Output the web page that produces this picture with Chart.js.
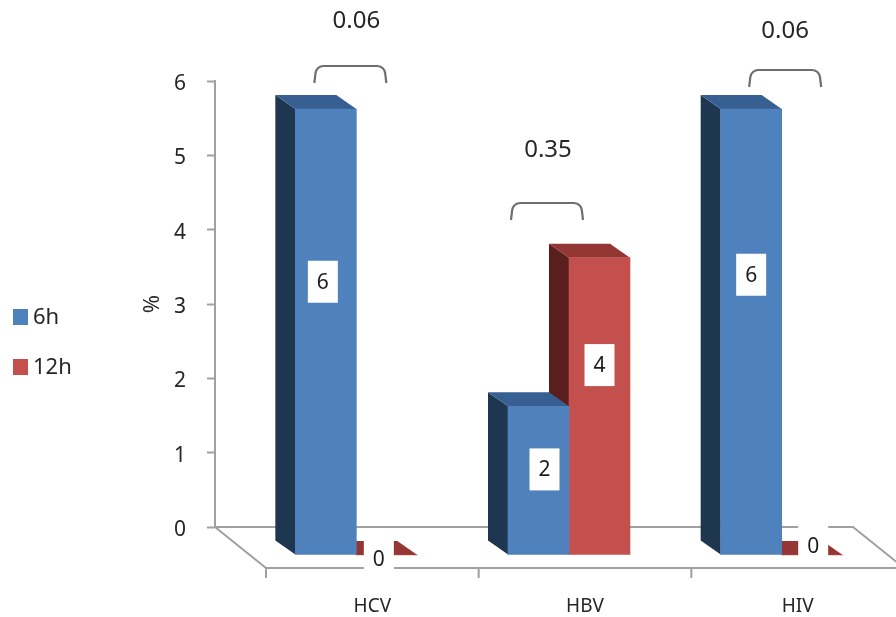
<!DOCTYPE html>
<html>
<head>
<meta charset="utf-8">
<title>6h vs 12h</title>
<script src="https://cdn.jsdelivr.net/npm/chart.js@4/dist/chart.umd.min.js"></script>
<style>
  html, body { margin: 0; padding: 0; background: #fff; }
  canvas { display: block; }
</style>
</head>
<body>
<canvas id="chart" width="896" height="617"></canvas>
<script>
const categories = ["HCV", "HBV", "HIV"];
const hours6 = [6, 2, 6];
const hours12 = [0, 4, 0];
const pValues = ["0.06", "0.35", "0.06"];
const yTicks = [0, 1, 2, 3, 4, 5, 6];

// look of the fake 3D box
const FRONT = { x: 35, y: 28 };
const DEPTH = { x: -20, y: -14 };
const FONT = "'Noto Sans', sans-serif";
const TEXT = "#262626";
const AXIS = "#a0a0a0";

const shades = [
  { front: "#4F81BD", side: "#1F3650", top: "#375F92" },
  { front: "#C4504D", side: "#5A1F1D", top: "#943634" }
];

// white label boxes sit off centre in the original
const labelShift = [
  [[-3, -50], [6, -11], [0, -57]],
  [[-8, 4], [0, -41], [1, -9]]
];

const bracketShift = [29, 13, 38.5];
const bracketTop = [66, 203, 70];
const pValueShift = [35, 14, 38.5];
const pValueY = [21, 150, 31];
const legendY = [317, 367];

const box3d = {
  id: "box3d",
  beforeDatasetDraw(chart, args) {
    const ctx = chart.ctx;
    const shade = shades[args.index];
    ctx.save();
    ctx.translate(FRONT.x, FRONT.y);
    args.meta.data.forEach(bar => {
      const l = bar.x - bar.width / 2;
      const r = bar.x + bar.width / 2;
      // left side
      ctx.fillStyle = shade.side;
      ctx.beginPath();
      ctx.moveTo(l, bar.y);
      ctx.lineTo(l + DEPTH.x, bar.y + DEPTH.y);
      ctx.lineTo(l + DEPTH.x, bar.base + DEPTH.y);
      ctx.lineTo(l, bar.base);
      ctx.closePath();
      ctx.fill();
      // top
      ctx.fillStyle = shade.top;
      ctx.beginPath();
      ctx.moveTo(l, bar.y);
      ctx.lineTo(l + DEPTH.x, bar.y + DEPTH.y);
      ctx.lineTo(r + DEPTH.x, bar.y + DEPTH.y);
      ctx.lineTo(r, bar.y);
      ctx.closePath();
      ctx.fill();
    });
  },
  afterDatasetDraw(chart) {
    chart.ctx.restore();
  }
};

const floor = {
  id: "floor",
  beforeDatasetsDraw(chart) {
    const { ctx, chartArea, scales } = chart;
    const bottom = chartArea.bottom;
    const step = scales.x.getPixelForTick(1) - scales.x.getPixelForTick(0);
    ctx.save();
    ctx.strokeStyle = AXIS;
    ctx.lineWidth = 2;
    ctx.beginPath();
    ctx.moveTo(chartArea.left, bottom);
    ctx.lineTo(chartArea.left + 51, bottom + 41);
    ctx.lineTo(chartArea.right + 51, bottom + 41);
    ctx.lineTo(chartArea.right, bottom);
    categories.forEach((c, i) => {
      const x = chartArea.left + 51 + step * i;
      ctx.moveTo(x, bottom + 41);
      ctx.lineTo(x, bottom + 51);
    });
    ctx.stroke();
    ctx.restore();
  },
  afterDatasetsDraw(chart) {
    const { ctx, scales } = chart;
    ctx.save();
    ctx.textAlign = "center";
    ctx.textBaseline = "middle";

    // value labels on white boxes
    ctx.font = "21px " + FONT;
    chart.data.datasets.forEach((ds, d) => {
      chart.getDatasetMeta(d).data.forEach((bar, i) => {
        const cx = bar.x + FRONT.x + labelShift[d][i][0];
        const cy = (bar.y + bar.base) / 2 + FRONT.y + labelShift[d][i][1];
        ctx.fillStyle = "#fff";
        ctx.fillRect(cx - 15, cy - 21, 30, 42);
        ctx.fillStyle = "#1c1c1c";
        ctx.fillText(ds.data[i], cx, cy + 1);
      });
    });

    // p value brackets
    pValues.forEach((p, i) => {
      const mid = scales.x.getPixelForTick(i) + bracketShift[i];
      const top = bracketTop[i];
      ctx.strokeStyle = "#6e6e6e";
      ctx.lineWidth = 2.2;
      ctx.beginPath();
      ctx.moveTo(mid - 36, top + 17);
      ctx.arcTo(mid - 34, top, mid - 20, top, 8);
      ctx.lineTo(mid + 28, top);
      ctx.arcTo(mid + 34, top, mid + 36, top + 17, 8);
      ctx.lineTo(mid + 36, top + 17);
      ctx.stroke();
      ctx.fillStyle = TEXT;
      ctx.font = "24px " + FONT;
      ctx.fillText(p, scales.x.getPixelForTick(i) + pValueShift[i], pValueY[i]);
    });

    // legend at the far left
    ctx.textAlign = "left";
    ctx.font = "22px " + FONT;
    chart.data.datasets.forEach((ds, d) => {
      ctx.fillStyle = ds.backgroundColor;
      ctx.fillRect(13, legendY[d] - 8, 15, 16);
      ctx.fillStyle = TEXT;
      ctx.fillText(ds.label, 33, legendY[d] + 1);
    });
    ctx.restore();
  }
};

new Chart(document.getElementById("chart"), {
  type: "bar",
  data: {
    labels: categories,
    datasets: [
      { label: "6h", data: hours6, backgroundColor: shades[0].front, borderWidth: 0, barThickness: 61, clip: false },
      { label: "12h", data: hours12, backgroundColor: shades[1].front, borderWidth: 0, barThickness: 61, clip: false }
    ]
  },
  options: {
    responsive: false,
    animation: false,
    devicePixelRatio: 1,
    layout: { padding: { top: 81, right: 43, bottom: 0, left: 0 } },
    plugins: {
      tooltip: { enabled: false },
      legend: { display: false }
    },
    scales: {
      x: {
        grid: { display: false },
        border: { color: AXIS, width: 2 },
        ticks: {
          color: TEXT,
          labelOffset: 51,
          padding: 60,
          maxRotation: 0,
          font: { family: FONT, size: 19 }
        },
        afterFit(scale) { scale.height = 90; }
      },
      y: {
        min: 0,
        max: 6,
        afterBuildTicks(scale) { scale.ticks = yTicks.map(value => ({ value })); },
        grid: { drawOnChartArea: false, tickLength: 8, color: AXIS, tickWidth: 2 },
        border: { color: AXIS, width: 2 },
        ticks: {
          color: TEXT,
          padding: 21,
          labelOffset: 3,
          font: { family: FONT, size: 21 }
        },
        title: {
          display: true,
          text: "%",
          color: TEXT,
          font: { family: FONT, size: 22 },
          padding: { top: 140, bottom: 0 }
        },
        afterFit(scale) { scale.width = 215; }
      }
    }
  },
  plugins: [box3d, floor]
});
</script>
</body>
</html>
